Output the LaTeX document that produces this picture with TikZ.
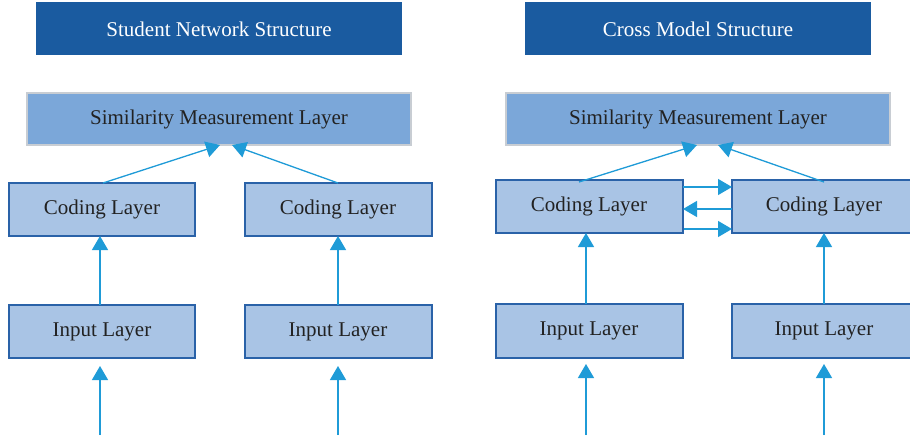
\documentclass[tikz,border=0pt]{standalone}
\usepackage{fontspec}
\setmainfont{Liberation Serif}
\usetikzlibrary{arrows.meta}
\definecolor{titleblue}{HTML}{1A5BA0}
\definecolor{simfill}{HTML}{7BA7D9}
\definecolor{simedge}{HTML}{C8CDD3}
\definecolor{layerfill}{HTML}{A9C4E5}
\definecolor{layeredge}{HTML}{2A62A8}
\definecolor{flow}{HTML}{1F9BD7}
\definecolor{ink}{HTML}{222222}
\begin{document}
\begin{tikzpicture}[x=1pt,y=-1pt,
  labelfont/.style={font=\fontsize{21}{24}\selectfont},
  titletext/.style={labelfont,text=white},
  boxtext/.style={labelfont,text=ink},
  simbox/.style={fill=simfill,draw=simedge,line width=1.3pt},
  layerbox/.style={fill=layerfill,draw=layeredge,line width=1.3pt},
  flowarrow/.style={draw=flow,line width=1.3pt,-{Triangle[width=16pt,length=14pt]},fill=flow}]
\useasboundingbox (0,0) rectangle (910,441);

% title bars
\fill[titleblue] (36,2) rectangle (402,55);
\node[titletext] (t1) at (219,29) {Student Network Structure};
\fill[titleblue] (525,2) rectangle (871,55);
\node[titletext] (t2) at (698,29) {Cross Model Structure};

% --- left: student network ---
\draw[simbox] (27,93) rectangle (411,145);
\node[boxtext] (s1) at (219,119.5) {Similarity Measurement Layer};
\coordinate (s1a) at (220,145);
\coordinate (s1b) at (232,145);

\draw[layerbox] (9,183) rectangle (195,236);
\node[boxtext] (c1) at (102,209.5) {Coding Layer};
\draw[layerbox] (245,183) rectangle (432,236);
\node[boxtext] (c2) at (338,209.5) {Coding Layer};

\draw[layerbox] (9,305) rectangle (195,358);
\node[boxtext] (i1) at (102,331.5) {Input Layer};
\draw[layerbox] (245,305) rectangle (432,358);
\node[boxtext] (i2) at (338,331.5) {Input Layer};

\coordinate (c1t) at (103,183);
\coordinate (c2t) at (338,183);
\draw[flowarrow] (c1t) -- (s1a);
\draw[flowarrow] (c2t) -- (s1b);

\coordinate (i1t) at (100,305);
\coordinate (c1b) at (100,236);
\coordinate (i2t) at (338,305);
\coordinate (c2b) at (338,236);
\draw[flowarrow] (i1t) -- (c1b);
\draw[flowarrow] (i2t) -- (c2b);

\coordinate (in1) at (100,435);
\coordinate (i1b) at (100,366);
\coordinate (in2) at (338,435);
\coordinate (i2b) at (338,366);
\draw[flowarrow] (in1) -- (i1b);
\draw[flowarrow] (in2) -- (i2b);

% --- right: cross model ---
\draw[simbox] (506,93) rectangle (890,145);
\node[boxtext] (s2) at (698,119.5) {Similarity Measurement Layer};
\coordinate (s2a) at (697,145);
\coordinate (s2b) at (718,145);

\draw[layerbox] (496,180) rectangle (683,233);
\node[boxtext] (c3) at (589,206.5) {Coding Layer};
\draw[layerbox] (732,180) rectangle (915,233);
\node[boxtext] (c4) at (824,206.5) {Coding Layer};

\draw[layerbox] (496,304) rectangle (683,358);
\node[boxtext] (i3) at (589,330.5) {Input Layer};
\draw[layerbox] (732,304) rectangle (915,358);
\node[boxtext] (i4) at (824,330.5) {Input Layer};

\coordinate (c3t) at (579,182);
\coordinate (c4t) at (824,182);
\draw[flowarrow] (c3t) -- (s2a);
\draw[flowarrow] (c4t) -- (s2b);

% exchange between the two coding layers
\draw[flowarrow] (683,187) -- (732,187);
\draw[flowarrow] (732,209) -- (683,209);
\draw[flowarrow] (684,229) -- (732,229);

\coordinate (i3t) at (586,304);
\coordinate (c3b) at (586,233);
\coordinate (i4t) at (824,304);
\coordinate (c4b) at (824,233);
\draw[flowarrow] (i3t) -- (c3b);
\draw[flowarrow] (i4t) -- (c4b);

\coordinate (in3) at (586,435);
\coordinate (i3b) at (586,364);
\coordinate (in4) at (824,435);
\coordinate (i4b) at (824,364);
\draw[flowarrow] (in3) -- (i3b);
\draw[flowarrow] (in4) -- (i4b);
\end{tikzpicture}
\end{document}
